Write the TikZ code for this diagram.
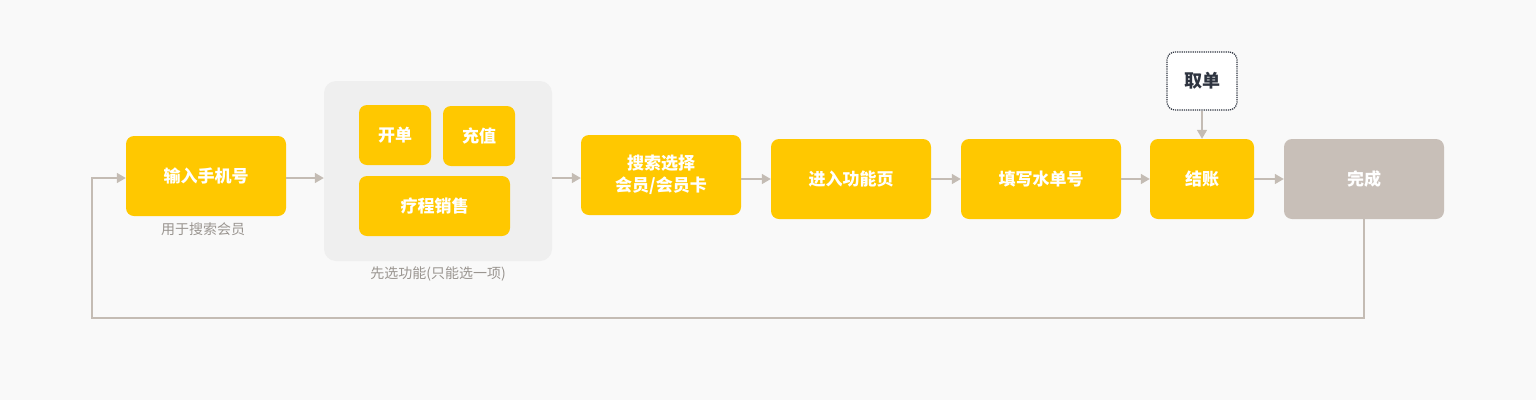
\documentclass[tikz,border=0pt]{standalone}
\usepackage{fontspec}
\setmainfont{Noto Sans CJK SC}
\usetikzlibrary{arrows.meta}
\definecolor{yel}{HTML}{FFC800}
\definecolor{lnc}{HTML}{C4BCB4}
\definecolor{done}{HTML}{C8BFB8}
\definecolor{grp}{HTML}{EFEFEF}
\definecolor{bg}{HTML}{F9F9F9}
\definecolor{cap}{HTML}{9A9590}
\definecolor{dk}{HTML}{2E3440}
\begin{document}
\begin{tikzpicture}[x=1pt,y=-1pt,
 box/.style={fill=yel,rounded corners=8pt,text=white,font=\fontsize{17}{22}\selectfont\bfseries,align=center,inner sep=0},
 arr/.style={draw=lnc,line width=1.5pt,-{Triangle[length=9pt,width=10pt]}},
 capt/.style={text=cap,font=\fontsize{14}{16}\selectfont}]
\fill[bg] (0,0) rectangle (1536,400);
\useasboundingbox (0,0) rectangle (1536,400);
\node[fill=grp,rounded corners=12pt,minimum width=228pt,minimum height=180pt,inner sep=0] (grp) at (438,171) {};
\node[box,minimum width=160pt,minimum height=80pt] (a) at (206,176) {输入手机号};
\node[capt] (ac) at (203,229) {用于搜索会员};
\node[capt] (gc) at (438,274) {先选功能(只能选一项)};
\node[box,minimum width=72pt,minimum height=60pt] (b1) at (395,135) {开单};
\node[box,minimum width=72pt,minimum height=60pt] (b2) at (479,136) {充值};
\node[box,minimum width=151pt,minimum height=60pt] (b3) at (434.5,206) {疗程销售};
\node[box,minimum width=160pt,minimum height=80pt] (c) at (661,175) {搜索选择\\会员/会员卡};
\node[box,minimum width=160pt,minimum height=80pt] (d) at (851,179) {进入功能页};
\node[box,minimum width=160pt,minimum height=80pt] (e) at (1041,179) {填写水单号};
\node[box,minimum width=104pt,minimum height=80pt] (f) at (1202,179) {结账};
\node[box,fill=done,minimum width=160pt,minimum height=80pt] (g) at (1364,179) {完成};
\node[box,fill=white,text=dk,draw=dk,densely dotted,line width=1.2pt,minimum width=70pt,minimum height=58pt] (q) at (1202,81) {\fontsize{18}{22}\selectfont 取单};
\draw[arr] (a.east |- 0,178) -- (grp.west |- 0,178);
\draw[arr] (grp.east |- 0,178) -- (c.west |- 0,178);
\draw[arr] (c.east |- 0,179) -- (d.west);
\draw[arr] (d) -- (e);
\draw[arr] (e) -- (f);
\draw[arr] (f) -- (g);
\draw[arr] (q) -- (f);
\coordinate (p1) at (1364,318);
\coordinate (p2) at (92,318);
\coordinate (p3) at (92,178);
\draw[arr] (g.south) -- (p1) -- (p2) -- (p3) -- (a.west |- p3);
\end{tikzpicture}
\end{document}
